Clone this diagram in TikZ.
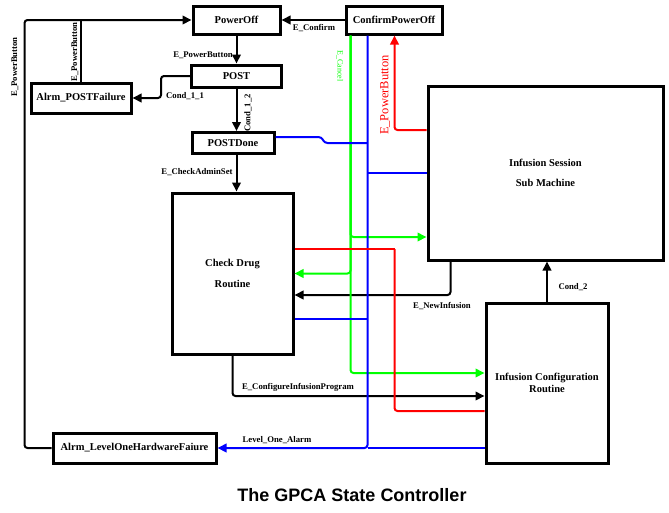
\documentclass[tikz,border=0pt]{standalone}
\usepackage{fontspec}
\setmainfont{Liberation Serif}
\newfontfamily\titlefont{Liberation Sans}
\usetikzlibrary{arrows.meta}

\tikzset{
  statebox/.style={draw, line width=3pt, fill=white, inner sep=0pt, align=center,
    font=\bfseries\fontsize{10.5}{12}\selectfont},
  wire/.style={line width=2pt, rounded corners=3pt},
  arrowwire/.style={wire, -{Triangle[length=9pt,width=8.5pt]}},
  lbl/.style={inner sep=0pt, font=\bfseries\fontsize{8.7}{10}\selectfont},
}

\begin{document}
\begin{tikzpicture}[x=1pt, y=-1pt]
\useasboundingbox (0,0) rectangle (669,512);

% states
\node[statebox, minimum width=87pt,  minimum height=28pt]  (poweroff) at (236.5,20)  {PowerOff};
\node[statebox, minimum width=96pt,  minimum height=28pt]  (confirm)  at (394,20)    {ConfirmPowerOff};
\node[statebox, minimum width=90pt,  minimum height=22pt]  (post)     at (236.5,76)  {POST};
\node[statebox, minimum width=82pt,  minimum height=21pt]  (postdone) at (233,143)   {POSTDone};
\node[statebox, minimum width=100pt, minimum height=30pt]  (postfail) at (81,98)     {Alrm\_POSTFailure};
\node[statebox, minimum width=121pt, minimum height=161pt] (check)    at (232.5,273.5) {Check Drug\\[9pt]Routine};
\node[statebox, minimum width=235pt, minimum height=174pt] (session)  at (545.5,173) {Infusion Session\\[8pt]Sub Machine};
\node[statebox, minimum width=122pt, minimum height=160pt] (config)   at (547,383)   {Infusion Configuration\\Routine};
\node[statebox, minimum width=163pt, minimum height=30pt]  (levelone) at (134.5,448) {Alrm\_LevelOneHardwareFaiure};

% bus taps under ConfirmPowerOff
\coordinate (gtop) at ([xshift=6pt]confirm.south west);
\coordinate (btop) at ([xshift=23pt]confirm.south west);
\coordinate (rtop) at ([xshift=50pt]confirm.south west);

% black transitions
\draw[arrowwire] (levelone.west) -- ++(-27,0) |- (poweroff.west);
\draw[wire] (postfail.north) -- (postfail.north |- poweroff.west);
\draw[arrowwire] (post.west) -- ++(-29,0) |- (postfail.east);
\draw[arrowwire] (poweroff.south) -- (post.north);
\draw[arrowwire] (post.south) -- (post.south |- postdone.north);
\draw[arrowwire] (post.south |- postdone.south) -- (post.south |- check.north);
\draw[arrowwire] (confirm.west) -- (poweroff.east);
\draw[arrowwire] ([xshift=24pt]session.south west) |- ([yshift=-21.5pt]check.east);
\draw[arrowwire] (config.north) -- (config.north |- session.south);
\draw[arrowwire] (check.south) |- ([yshift=-13pt]config.west);

% E_Cancel (green)
\begin{scope}[green]
\draw[arrowwire] (gtop) |- ([yshift=-64pt]session.west);
\draw[arrowwire] (gtop) |- (check.east);
\draw[arrowwire] (gtop) |- ([yshift=10pt]config.west);
\end{scope}

% Level_One_Alarm (blue)
\begin{scope}[blue]
\coordinate (cb) at ([yshift=-45pt]check.east);
\draw[wire] ([yshift=6pt]postdone.east) -- ++(46,0) -- ++(3,6) -- (btop |- postdone.east);
\draw[wire] (session.west) -- (btop |- session.west);
\draw[wire] (cb) -- (btop |- cb);
\draw[wire] ([yshift=-65pt]config.west) -- (btop |- levelone.east);
\draw[arrowwire] (btop) |- (levelone.east);
\end{scope}

% E_PowerButton (red)
\begin{scope}[red]
\coordinate (rc) at ([yshift=24.5pt]check.east);
\draw[wire] (rc) -- (rtop |- rc);
\draw[wire] ([yshift=-28pt]config.west) -| (rtop |- rc);
\draw[arrowwire] ([yshift=43pt]session.west) -| (rtop);
\end{scope}

% transition labels
\node[lbl, rotate=90] (l1) at (15,67)   {E\_PowerButton};
\node[lbl, rotate=90] (l2) at (75,52)   {E\_PowerButton};
\node[lbl]            (l3) at (203,55)  {E\_PowerButton};
\node[lbl]            (l4) at (185,96)  {Cond\_1\_1};
\node[lbl, rotate=90] (l5) at (248,113) {Cond\_1\_2};
\node[lbl]            (l6) at (197,172) {E\_CheckAdminSet};
\node[lbl]            (l7) at (314,28)  {E\_Confirm};
\node[inner sep=0pt, rotate=-90, green, font=\fontsize{8}{9}\selectfont] (l8) at (340,66) {E\_Cancel};
\node[inner sep=0pt, rotate=90, red, font=\fontsize{12.5}{14}\selectfont] (l9) at (385,95) {E\_PowerButton};
\node[lbl]            (l10) at (442,306) {E\_NewInfusion};
\node[lbl]            (l11) at (573,287) {Cond\_2};
\node[lbl]            (l12) at (298,387) {E\_ConfigureInfusionProgram};
\node[lbl]            (l13) at (277,440) {Level\_One\_Alarm};

% caption
\node[inner sep=0pt, font=\titlefont\bfseries\fontsize{18}{20}\selectfont] (title) at (352,495) {The GPCA State Controller};
\end{tikzpicture}
\end{document}
